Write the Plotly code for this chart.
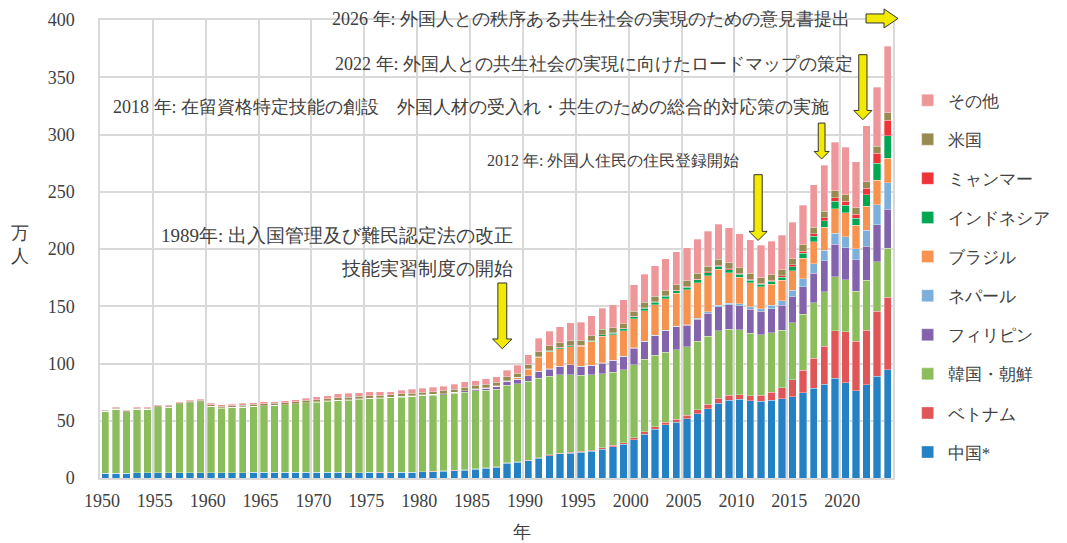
import plotly.graph_objects as go

years = list(range(1950, 2025))

# 万人, stacked bottom -> top
china = [4.0, 4.3, 4.3, 4.4, 4.4, 4.4, 4.5, 4.6, 4.6, 4.5,
         4.6, 4.6, 4.7, 4.8, 4.9, 4.9, 5.0, 5.0, 5.1, 5.1,
         5.1, 5.2, 4.9, 4.6, 4.8, 4.9, 4.8, 4.8, 4.9, 5.1,
         5.3, 5.5, 5.9, 6.3, 6.8, 7.5, 8.5, 9.5, 12.9, 13.7,
         15.0, 17.1, 19.5, 21.0, 21.8, 22.3, 23.4, 25.3, 27.2, 29.4,
         33.6, 38.2, 42.5, 46.3, 48.8, 51.9, 56.1, 60.7, 65.5, 68.1,
         68.7, 67.5, 67.0, 67.8, 69.1, 71.0, 74.4, 78.2, 81.8, 87.2,
         83.0, 76.2, 81.4, 89.0, 94.6]
vietnam = [0, 0, 0, 0, 0, 0, 0, 0, 0, 0,
           0, 0, 0, 0, 0, 0, 0, 0, 0, 0,
           0, 0, 0, 0, 0, 0.1, 0.1, 0.1, 0.1, 0.1,
           0.2, 0.3, 0.3, 0.4, 0.4, 0.5, 0.5, 0.5, 0.5, 0.6,
           0.6, 0.7, 0.7, 0.8, 0.8, 0.9, 1.0, 1.1, 1.2, 1.4,
           1.7, 2.0, 2.2, 2.4, 2.6, 2.9, 3.3, 3.7, 4.1, 4.1,
           4.2, 4.5, 5.2, 7.2, 9.9, 14.7, 19.9, 26.2, 33.1, 41.2,
           44.8, 43.2, 47.6, 56.5, 63.4]
korea = [54.4, 55.8, 53.5, 55.6, 55.6, 57.8, 57.5, 60.1, 61.1, 61.9,
         57.8, 56.5, 56.7, 57.1, 57.6, 58.2, 58.3, 58.9, 59.6, 60.5,
         61.2, 62.0, 62.7, 63.4, 64.2, 64.5, 64.9, 65.4, 65.7, 66.0,
         66.3, 66.6, 66.7, 67.2, 67.9, 68.3, 67.8, 67.3, 67.7, 68.1,
         68.8, 69.3, 68.8, 68.2, 67.6, 66.6, 65.7, 64.5, 63.8, 63.6,
         63.5, 63.3, 62.5, 61.3, 60.7, 59.9, 59.9, 59.3, 58.9, 57.9,
         56.6, 54.5, 53.0, 51.9, 50.1, 49.7, 48.6, 48.6, 47.9, 47.4,
         45.5, 43.6, 43.6, 43.5, 42.5]
philippines = [0, 0, 0, 0, 0, 0, 0, 0, 0, 0,
               0, 0.1, 0.1, 0.1, 0.1, 0.1, 0.1, 0.1, 0.1, 0.1,
               0.1, 0.1, 0.2, 0.2, 0.2, 0.2, 0.2, 0.2, 0.3, 0.3,
               0.5, 0.6, 0.7, 0.9, 1.1, 1.3, 1.8, 2.6, 3.3, 3.9,
               4.9, 6.1, 6.2, 7.4, 8.5, 7.5, 8.4, 9.4, 10.6, 11.6,
               14.5, 15.6, 16.9, 18.6, 20.0, 18.7, 19.3, 20.3, 21.1, 21.1,
               21.1, 21.0, 20.3, 20.9, 21.7, 22.9, 24.3, 26.0, 27.1, 28.3,
               27.9, 27.6, 29.9, 32.2, 34.2]
nepal = [0, 0, 0, 0, 0, 0, 0, 0, 0, 0,
         0, 0, 0, 0, 0, 0, 0, 0, 0, 0,
         0, 0, 0, 0, 0, 0, 0, 0, 0, 0,
         0, 0, 0, 0, 0, 0, 0, 0, 0, 0,
         0.1, 0.1, 0.1, 0.1, 0.1, 0.1, 0.1, 0.2, 0.2, 0.2,
         0.3, 0.4, 0.4, 0.5, 0.5, 0.6, 0.8, 1.0, 1.3, 1.5,
         1.8, 2.0, 2.4, 3.2, 4.2, 5.5, 6.8, 8.0, 8.9, 9.7,
         9.6, 9.8, 13.9, 17.6, 23.3]
brazil = [0.1, 0.1, 0.1, 0.1, 0.1, 0.1, 0.1, 0.1, 0.1, 0.1,
          0.1, 0.1, 0.1, 0.1, 0.1, 0.1, 0.1, 0.1, 0.1, 0.1,
          0.1, 0.1, 0.1, 0.1, 0.1, 0.1, 0.1, 0.1, 0.1, 0.1,
          0.1, 0.1, 0.1, 0.1, 0.1, 0.2, 0.2, 0.3, 0.4, 1.4,
          5.6, 12.0, 14.8, 15.5, 15.9, 17.6, 20.2, 23.3, 22.2, 22.4,
          25.4, 26.6, 26.8, 27.5, 28.7, 30.2, 31.3, 31.7, 31.3, 26.7,
          23.0, 21.0, 19.0, 18.1, 17.5, 17.3, 18.1, 19.2, 20.1, 21.2,
          20.8, 20.4, 20.9, 21.2, 21.2]
indonesia = [0, 0, 0, 0, 0, 0, 0, 0, 0, 0,
             0, 0, 0, 0, 0, 0, 0, 0, 0, 0,
             0, 0, 0, 0, 0, 0, 0, 0, 0.1, 0.1,
             0.1, 0.1, 0.1, 0.1, 0.1, 0.1, 0.1, 0.1, 0.2, 0.2,
             0.3, 0.4, 0.5, 0.6, 0.6, 0.7, 0.8, 1.1, 1.3, 1.6,
             1.9, 2.1, 2.2, 2.2, 2.3, 2.5, 2.5, 2.6, 2.6, 2.5,
             2.5, 2.4, 2.5, 2.7, 3.0, 3.6, 4.3, 5.0, 5.6, 6.7,
             6.6, 5.9, 9.9, 14.9, 19.9]
myanmar = [0, 0, 0, 0, 0, 0, 0, 0, 0, 0,
           0, 0, 0, 0, 0, 0, 0, 0, 0, 0,
           0, 0, 0, 0, 0, 0, 0, 0, 0, 0,
           0, 0, 0, 0, 0, 0, 0.1, 0.1, 0.1, 0.1,
           0.2, 0.3, 0.4, 0.4, 0.4, 0.4, 0.4, 0.4, 0.4, 0.4,
           0.5, 0.5, 0.5, 0.5, 0.5, 0.6, 0.6, 0.7, 0.8, 0.8,
           0.9, 0.9, 0.8, 0.9, 1.2, 1.5, 1.8, 2.2, 2.6, 3.2,
           3.5, 3.8, 5.7, 8.6, 13.5]
usa = [0.5, 0.6, 0.7, 0.8, 0.9, 1.0, 1.1, 1.1, 1.2, 1.3,
       1.5, 1.5, 1.6, 1.6, 1.7, 1.7, 1.8, 1.8, 1.9, 1.9,
       2.0, 2.0, 2.1, 2.1, 2.1, 2.2, 2.2, 2.2, 2.2, 2.2,
       2.2, 2.3, 2.4, 2.6, 2.7, 2.9, 3.0, 3.1, 3.3, 3.5,
       3.9, 4.2, 4.3, 4.3, 4.3, 4.3, 4.4, 4.4, 4.2, 4.2,
       4.4, 4.6, 4.8, 4.8, 4.9, 4.9, 5.1, 5.1, 5.3, 5.3,
       5.0, 4.9, 4.8, 5.0, 5.1, 5.3, 5.3, 5.6, 5.7, 5.9,
       5.6, 5.5, 6.0, 6.3, 6.6]
other = [0.8, 0.8, 0.7, 1.0, 0.9, 0.8, 0.7, 0.8, 0.7, 0.8,
         1.1, 1.2, 1.2, 1.4, 1.5, 1.6, 1.5, 1.5, 1.6, 1.9,
         2.3, 2.4, 3.5, 3.5, 3.1, 3.2, 3.0, 2.6, 3.2, 3.6,
         3.6, 3.7, 4.0, 4.1, 5.0, 4.3, 4.7, 4.9, 5.7, 7.0,
         8.1, 11.7, 12.9, 13.8, 15.4, 15.8, 17.1, 18.6, 20.1, 20.8,
         22.8, 24.5, 26.4, 27.4, 28.4, 29.0, 29.6, 30.2, 30.8, 30.6,
         29.6, 29.2, 28.4, 28.9, 30.4, 31.7, 34.8, 37.2, 40.3, 42.5,
         41.4, 40.1, 48.6, 51.3, 57.7]

series = [
  ("中国*", china, "#2481c4"),
  ("ベトナム", vietnam, "#e05558"),
  ("韓国・朝鮮", korea, "#8cbd5c"),
  ("フィリピン", philippines, "#8463ad"),
  ("ネパール", nepal, "#7cb0da"),
  ("ブラジル", brazil, "#f7924f"),
  ("インドネシア", indonesia, "#00a652"),
  ("ミャンマー", myanmar, "#ee3438"),
  ("米国", usa, "#988b52"),
  ("その他", other, "#ee9699"),
]

tick_years = ["1950", "1955", "1960", "1965", "1970", "1975", "1980",
              "1985", "1990", "1995", "2000", "2005", "2010", "2015", "2020"]

FONT = "'Liberation Serif', 'DejaVu Serif', serif"
TXT = "#404040"
GRID = "#d9d9d9"
YELLOW = "#f2ea00"

fig = go.Figure()
for i, (name, vals, col) in enumerate(series):
  fig.add_trace(go.Bar(x=years, y=vals, name=name, legendgroup=name,
                       legendrank=100 - i,
                       marker_color=col, width=0.7,
                       marker_line=dict(color="rgba(255,255,255,0.55)", width=0.6)))

# gridlines sit between categories, labels next to them
grid_pos = [int(t) - 0.5 for t in tick_years]

def down_arrow(xc, top, neck, tip, hs, hh):
  return (f"M{xc-hs},{top} L{xc+hs},{top} L{xc+hs},{neck} L{xc+hh},{neck} "
          f"L{xc},{tip} L{xc-hh},{neck} L{xc-hs},{neck} Z")

shapes = []
for xc, top, neck, tip, hs, hh in [
    (1987.55, 170.3, 121.4, 112.9, 0.42, 0.92),
    (2011.74, 264.9, 215.4, 207.5, 0.39, 0.86),
    (2017.75, 310.0, 285.2, 278.6, 0.32, 0.71),
    (2021.65, 369.7, 321.0, 312.9, 0.39, 0.86)]:
  shapes.append(dict(type="path", xref="x", yref="y",
                     path=down_arrow(xc, top, neck, tip, hs, hh),
                     fillcolor=YELLOW, line=dict(color="#333", width=1), layer="above"))
# right-pointing arrow above the plot
shapes.append(dict(type="path", xref="paper", yref="paper",
                   path="M0.966,0.9935 L0.9887,0.9935 L0.9887,0.9826 L1.0063,1.0033 "
                        "L0.9887,1.0241 L0.9887,1.0132 L0.966,1.0132 Z",
                   fillcolor=YELLOW, line=dict(color="#333", width=1)))

notes = [
  ("2026 年: 外国人との秩序ある共生社会の実現のための意見書提出", 0.9483, 1.0022, 18),
  ("2022 年: 外国人との共生社会の実現に向けたロードマップの策定", 0.9521, 0.9039, 18),
  ("2018 年: 在留資格特定技能の創設　外国人材の受入れ・共生のための総合的対応策の実施", 0.9218, 0.8100, 18),
  ("2012 年: 外国人住民の住民登録開始", 0.8083, 0.6943, 16),
  ("1989年: 出入国管理及び難民認定法の改正", 0.5233, 0.5284, 19),
  ("技能実習制度の開始", 0.5233, 0.4585, 19),
]
annotations = [dict(text=t, x=x, y=y, xref="paper", yref="paper", xanchor="right",
                    yanchor="middle", showarrow=False,
                    font=dict(size=s, color=TXT, family=FONT)) for t, x, y, s in notes]
annotations.append(dict(text="万<br>人", x=-0.101, y=0.51, xref="paper", yref="paper",
                        xanchor="center", yanchor="middle", showarrow=False,
                        font=dict(size=18, color=TXT, family=FONT)))
annotations.append(dict(text="年", x=0.532, y=-0.118, xref="paper", yref="paper",
                        xanchor="center", yanchor="middle", showarrow=False,
                        font=dict(size=18, color=TXT, family=FONT)))

# the page body adds an 8px offset, so the figure is a bit smaller than the window
fig.update_layout(
  width=1059, height=535,
  margin=dict(l=92, r=174, t=12, b=65, autoexpand=False),
  barmode="stack",
  plot_bgcolor="white", paper_bgcolor="white",
  font=dict(family=FONT, size=18, color=TXT),
  showlegend=True,
  legend=dict(x=1.0185, y=0.8633, xanchor="left", yanchor="top",
              traceorder="grouped", tracegroupgap=14,
              font=dict(size=17, color=TXT, family=FONT)),
  shapes=shapes,
  annotations=annotations,
)
fig.update_xaxes(range=[1949.5, 2024.5], tickmode="array", tickvals=grid_pos,
                 ticktext=tick_years, ticklabelshift=2, ticklabelstandoff=6,
                 showgrid=True, gridcolor=GRID, gridwidth=1.5, ticks="",
                 showline=True, mirror=True, linecolor=GRID, linewidth=1.5,
                 zeroline=False, automargin=False, tickfont=dict(size=18, color=TXT))
fig.update_yaxes(range=[0, 400], dtick=50, showgrid=True, gridcolor=GRID,
                 gridwidth=1.5, ticks="", showline=True, mirror=True,
                 linecolor=GRID, linewidth=1.5, zeroline=False, automargin=False,
                 ticklabelstandoff=20, tickfont=dict(size=18, color=TXT))

fig.write_html("out.html")
